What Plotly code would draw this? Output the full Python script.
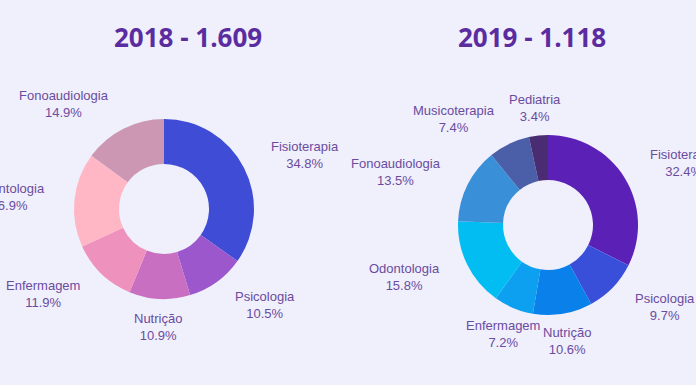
import math
import plotly.graph_objects as go

labels_2018 = ["Fisioterapia", "Psicologia", "Nutrição", "Enfermagem", "Odontologia", "Fonoaudiologia"]
values_2018 = [560, 169, 176, 192, 272, 240]
colors_2018 = ["#3f4dd6", "#9b57cb", "#c96fc2", "#ee92bd", "#ffb7c6", "#cc97b2"]

labels_2019 = ["Fisioterapia", "Psicologia", "Nutrição", "Enfermagem", "Odontologia",
               "Fonoaudiologia", "Musicoterapia", "Pediatria"]
values_2019 = [362, 108, 119, 80, 177, 151, 83, 38]
colors_2019 = ["#5b20b5", "#3a4fd9", "#0a80ea", "#0ea0f0", "#02bdf2", "#3a8fd9", "#4a5fa8", "#4a2c72"]

title_2018 = "2018 - 1.609"
title_2019 = "2019 - 1.118"

W, H = 696, 385
bg = "#f0effc"
txt_color = "#6a4c9e"
label_font = dict(family="Liberation Sans, Arial, sans-serif", size=13, color=txt_color)


def dom(cx, cy, r):
    return dict(x=[(cx - r) / W, (cx + r) / W], y=[(H - cy - r) / H, (H - cy + r) / H])


def add_donut(fig, labels, values, colors, cx, cy, r, label_r):
    fig.add_trace(go.Pie(
        labels=labels, values=values, hole=0.5, sort=False,
        direction="clockwise", rotation=0,
        marker=dict(colors=colors, line=dict(width=0)),
        textinfo="none", domain=dom(cx, cy, r),
        automargin=False, showlegend=False,
    ))
    # outside labels: anchored at the slice's mid-angle, aligned away from the centre
    total = sum(values)
    cum = 0
    for lab, v in zip(labels, values):
        mid = (cum + v / 2) / total * 2 * math.pi
        cum += v
        s, c = math.sin(mid), math.cos(mid)
        px = cx + label_r * s
        py = cy - label_r * c
        if abs(s) < 0.41:
            xa = "center"
        elif s > 0:
            xa = "left"
        else:
            xa = "right"
        fig.add_annotation(
            text=f"{lab}<br>{v / total * 100:.1f}%",
            x=px / W, y=(H - py) / H, xref="paper", yref="paper",
            xanchor=xa, yanchor="middle", align="center",
            showarrow=False, font=label_font,
        )


fig = go.Figure()
add_donut(fig, labels_2018, values_2018, colors_2018, 164, 209, 90, 118)
add_donut(fig, labels_2019, values_2019, colors_2019, 548, 225, 90, 118)

title_font = dict(family="Open Sans, sans-serif", size=26, color="#5a2ca0", weight=700)
fig.add_annotation(text=title_2018, x=188 / W, y=1 - 37 / H,
                   xref="paper", yref="paper", showarrow=False, font=title_font,
                   xanchor="center", yanchor="middle")
fig.add_annotation(text=title_2019, x=532 / W, y=1 - 37 / H,
                   xref="paper", yref="paper", showarrow=False, font=title_font,
                   xanchor="center", yanchor="middle")

fig.update_layout(
    width=W, height=H,
    margin=dict(l=0, r=0, t=0, b=0),
    paper_bgcolor=bg, plot_bgcolor=bg,
)

fig.write_html("out.html", config={"displayModeBar": False},
               post_script="document.body.style.margin='0';document.body.style.overflow='hidden';")
